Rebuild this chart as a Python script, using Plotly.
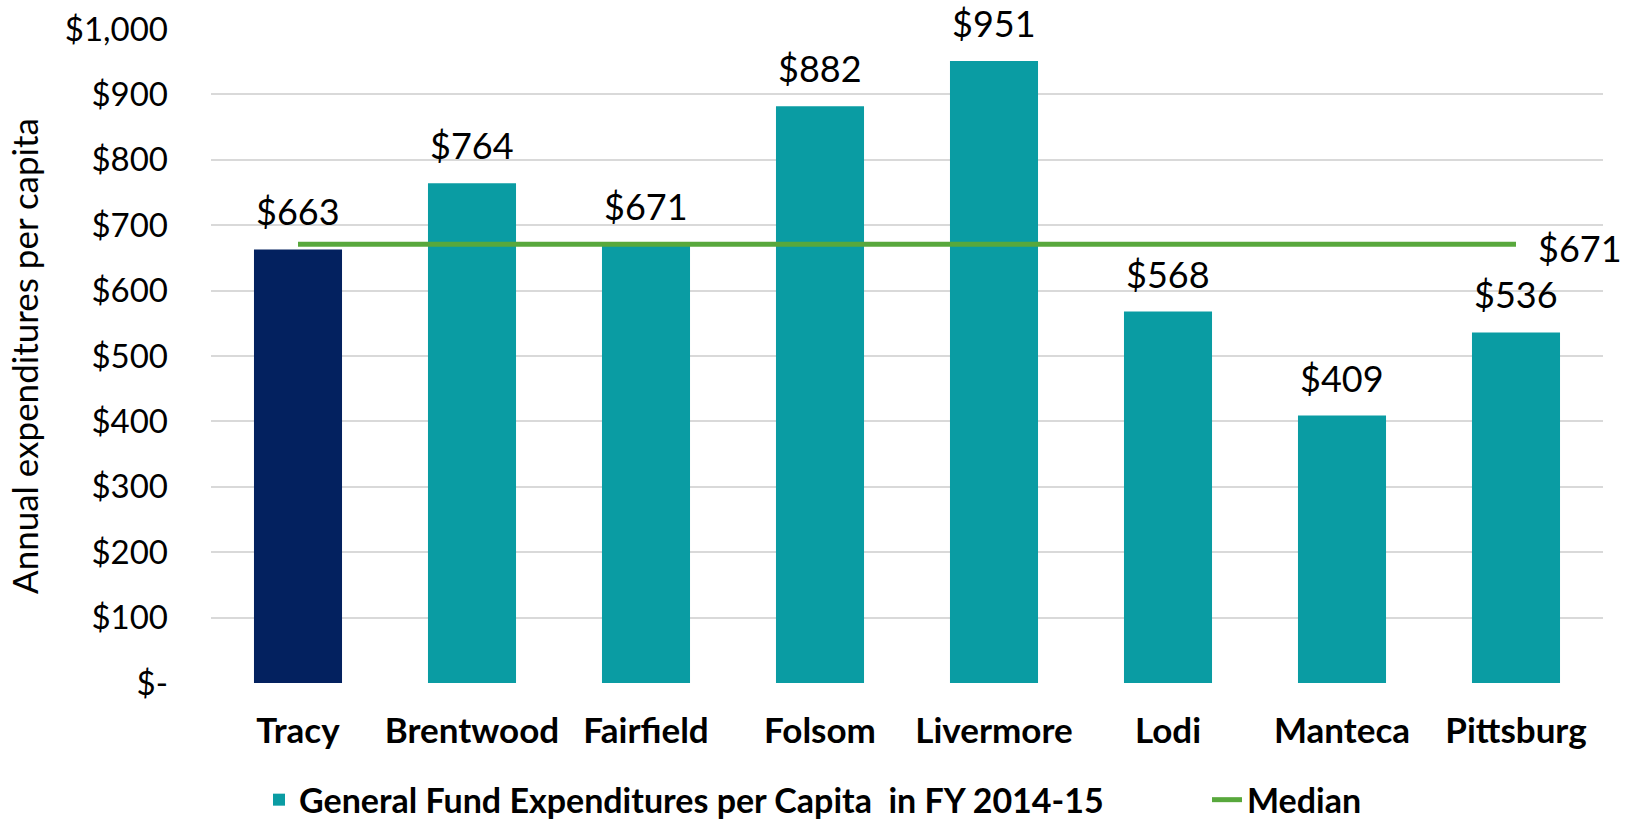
import plotly.graph_objects as go

cities = ["Tracy", "Brentwood", "Fairfield", "Folsom", "Livermore", "Lodi", "Manteca", "Pittsburg"]
values = [663, 764, 671, 882, 951, 568, 409, 536]
median_value = 671
highlight_city = "Tracy"
tick_vals = [0, 100, 200, 300, 400, 500, 600, 700, 800, 900, 1000]
tick_text = ["$-", "$100", "$200", "$300", "$400", "$500", "$600", "$700", "$800", "$900", "$1,000"]

TEAL = "#0a9ca3"
NAVY = "#03215f"
GREEN = "#58a83c"
FONT = "Lato"

others_x = [c for c in cities if c != highlight_city]
others_y = [v for c, v in zip(cities, values) if c != highlight_city]
hl_y = [v for c, v in zip(cities, values) if c == highlight_city]

fig = go.Figure()
fig.add_trace(go.Bar(
    x=others_x, y=others_y, name="General Fund Expenditures per Capita  in FY 2014-15",
    marker=dict(color=TEAL, line=dict(width=0)), legend="legend",
))
fig.add_trace(go.Bar(
    x=[highlight_city], y=hl_y, showlegend=False,
    marker=dict(color=NAVY, line=dict(width=0)),
))
fig.add_trace(go.Scatter(
    x=cities, y=[median_value] * len(cities), mode="lines", name="Median",
    line=dict(color=GREEN, width=5), legend="legend2",
))

annotations = []
for c, v in zip(cities, values):
    annotations.append(dict(
        x=c, y=v, xref="x", yref="y", text=f"${v:,}", showarrow=False,
        yanchor="bottom", yshift=14, font=dict(family=FONT, size=36, color="black"),
    ))
annotations.append(dict(
    x=cities[-1], y=median_value, xref="x", yref="y", text=f"${median_value:,}",
    showarrow=False, xanchor="left", yanchor="middle", xshift=20, yshift=-4,
    font=dict(family=FONT, size=36, color="black"),
))

legend_font = dict(family=FONT, size=34, color="black", weight="bold")
fig.update_layout(
    width=1636, height=819,
    margin=dict(l=211, r=33, t=29, b=136, autoexpand=False),
    plot_bgcolor="white", paper_bgcolor="white",
    barmode="overlay", bargap=0.494,
    font=dict(family=FONT, color="black"),
    showlegend=True,
    legend=dict(
        orientation="h", x=0.0345, xanchor="left", y=-0.179, yanchor="middle",
        font=legend_font, bgcolor="rgba(0,0,0,0)",
    ),
    legend2=dict(
        orientation="h", x=0.7155, xanchor="left", y=-0.179, yanchor="middle",
        font=legend_font, bgcolor="rgba(0,0,0,0)",
    ),
    annotations=annotations,
)
fig.update_xaxes(
    categoryorder="array", categoryarray=cities, range=[-0.5, 7.5],
    tickfont=dict(family=FONT, size=35, color="black", weight="bold"),
    showline=False, showgrid=False, ticks="", ticklabelstandoff=24, automargin=False,
)
fig.update_yaxes(
    range=[0, 1000], tickvals=tick_vals, ticktext=tick_text,
    tickfont=dict(family=FONT, size=33, color="black"),
    showgrid=True, gridcolor="#d9d9d9", gridwidth=2, zeroline=False,
    ticklabelstandoff=42, automargin=False,
    title=dict(text="Annual expenditures per capita", font=dict(family=FONT, size=35, color="black"), standoff=15),
)

fig.write_html("out.html")
